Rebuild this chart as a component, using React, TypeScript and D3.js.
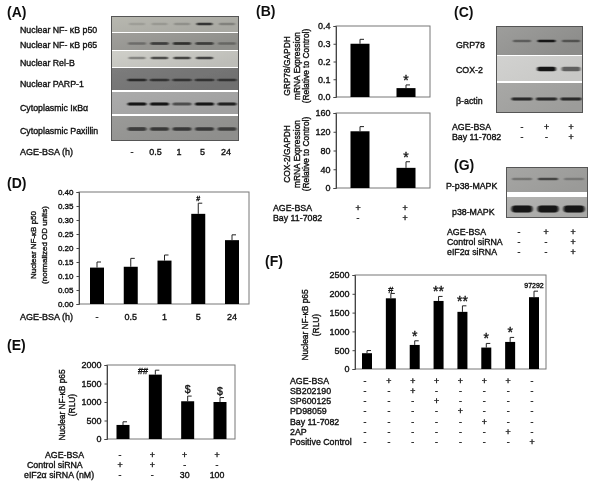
import React, { useEffect, useRef } from "react";
import * as d3 from "d3";

const FONT = "'Liberation Sans', Arial, sans-serif";

// ---- data ----
const aLanes = ["-", "0.5", "1", "5", "24"];
const aLabels = ["Nuclear  NF- κB p50", "Nuclear  NF- κB p65", "Nuclear  Rel-B", "Nuclear  PARP-1", "Cytoplasmic IκBα", "Cytoplasmic Paxillin"];
const aP50 = [0.12, 0.14, 0.18, 0.8, 0.25];
const aP65 = [0.3, 0.7, 0.8, 0.7, 0.3];
const aRelB = [0.35, 0.7, 0.75, 0.75, 0];
const aParp = [0.8, 0.7, 0.7, 0.7, 0.7];
const aIkb = [1, 1, 0.55, 1, 0.9];
const aPax = [0.7, 0.65, 0.65, 0.65, 0.6];

const cGrp = [0.4, 1, 0.45];
const cCox = [0, 1, 0.55];
const cActin = [0.85, 0.85, 0.85];
const gP = [0.3, 0.6, 0.25];
const gT = [1, 1, 1];

const bCats = ["control", "bay"];
const bGrp = [0.3, 0.05];
const bGrpErr = [0.025, 0.018];
const bGrpTicks = [0, 0.1, 0.2, 0.3, 0.4];
const bCox = [121, 43];
const bCoxErr = [10, 13];
const bCoxTicks = [0, 40, 80, 120, 160];

const dCats = ["-", "0.5", "1", "5", "24"];
const dVals = [0.13, 0.133, 0.155, 0.322, 0.228];
const dErrs = [0.02, 0.03, 0.02, 0.038, 0.019];
const dTicks = [0, 0.05, 0.1, 0.15, 0.2, 0.25, 0.3, 0.35, 0.4];
const dMarks = ["", "", "", "#", ""];

const eCats = ["a", "b", "c", "d"];
const eVals = [380, 1740, 1020, 1000];
const eErrs = [85, 120, 140, 120];
const eTicks = [0, 500, 1000, 1500, 2000];
const eMarks = ["", "", "$", "$"];

const fCats = ["a", "b", "c", "d", "e", "f", "g", "h"];
const fVals = [420, 1880, 640, 1810, 1520, 570, 720, 1910];
const fErrs = [70, 130, 110, 120, 160, 110, 120, 160];
const fTicks = [0, 500, 1000, 1500, 2000, 2500];
const fMarks = ["", "#", "*", "**", "**", "*", "*", ""];

const bRows: [string, string[]][] = [
  ["AGE-BSA", ["+", "+"]],
  ["Bay 11-7082", ["-", "+"]],
];
const cRows: [string, string[]][] = [
  ["AGE-BSA", ["-", "+", "+"]],
  ["Bay 11-7082", ["-", "-", "+"]],
];
const gRows: [string, string[]][] = [
  ["AGE-BSA", ["-", "+", "+"]],
  ["Control siRNA", ["-", "-", "+"]],
  ["eIF2α siRNA", ["-", "-", "+"]],
];
const eRows: [string, string[]][] = [
  ["AGE-BSA", ["-", "+", "+", "+"]],
  ["Control siRNA", ["+", "+", "-", "-"]],
  ["eIF2α siRNA  (nM)", ["-", "-", "30", "100"]],
];
const fRows: [string, string[]][] = [
  ["AGE-BSA", ["-", "+", "+", "+", "+", "+", "+", "-"]],
  ["SB202190", ["-", "-", "+", "-", "-", "-", "-", "-"]],
  ["SP600125", ["-", "-", "-", "+", "-", "-", "-", "-"]],
  ["PD98059", ["-", "-", "-", "-", "+", "-", "-", "-"]],
  ["Bay 11-7082", ["-", "-", "-", "-", "-", "+", "-", "-"]],
  ["2AP", ["-", "-", "-", "-", "-", "-", "+", "-"]],
  ["Positive Control", ["-", "-", "-", "-", "-", "-", "-", "+"]],
];

// ---- helpers ----
type Txt = { x: number; y: number; size?: number; anchor?: string; children: React.ReactNode; rotate?: boolean; heavy?: boolean };
function T({ x, y, size = 9, anchor = "start", children, rotate, heavy }: Txt) {
  return (
    <text x={x} y={y} fontSize={size} fontWeight={heavy ? "bold" : "normal"} fontFamily={FONT} textAnchor={anchor} fill="#111"
      stroke={heavy ? "none" : "#111"} strokeWidth={heavy ? 0 : 0.36}
      transform={rotate ? `rotate(-90 ${x} ${y})` : undefined}>
      {children}
    </text>
  );
}

function YAxis({ x, scale, ticks, fmt, size }: { x: number; scale: any; ticks: number[]; fmt: (v: number) => string; size: number }) {
  const ref = useRef<SVGGElement>(null);
  useEffect(() => {
    const g = d3.select(ref.current!);
    g.call(d3.axisLeft(scale).tickValues(ticks).tickFormat((v: any) => fmt(v)).tickSize(2.5).tickPadding(3) as any);
    g.selectAll("text").attr("font-size", size).attr("font-family", FONT).attr("fill", "#111").attr("stroke", "#111").attr("stroke-width", 0.36);
    g.selectAll("line,path").attr("stroke", "#444");
  }, []);
  return <g ref={ref} transform={`translate(${x},0)`} />;
}

type BarP = {
  cats: string[]; vals: number[]; errs: number[]; ticks: number[]; fmt: (v: number) => string;
  x0: number; x1: number; y0: number; y1: number; bw: number; cx0: number; cx1: number; max: number;
  marks?: string[]; markSize?: number; markGap?: number; tickSize?: number;
};
function Bars({ cats, vals, errs, ticks, fmt, x0, x1, y0, y1, bw, cx0, cx1, max, marks, markSize = 10, markGap = 3, tickSize = 9 }: BarP) {
  const x = d3.scalePoint<string>().domain(cats).range([cx0, cx1]);
  const y = d3.scaleLinear().domain([0, max]).range([y1, y0]);
  return (
    <g>
      <rect x={x0} y={y0} width={x1 - x0} height={y1 - y0} fill="#fff" stroke="#777" strokeWidth={1} />
      {cats.map((c, i) => {
        const cx = x(c)!;
        const top = y(vals[i] + errs[i]);
        const m = marks ? marks[i] : "";
        const isHash = m === "#" && markSize > 10;
        return (
          <g key={c}>
            <line x1={cx} x2={cx} y1={y(vals[i])} y2={top} stroke="#222" strokeWidth={1} />
            <line x1={cx} x2={cx + 4} y1={top} y2={top} stroke="#222" strokeWidth={1} />
            <rect x={cx - bw / 2} y={y(vals[i])} width={bw} height={y1 - y(vals[i])} fill="#000" />
            {m ? (
              <T x={cx} y={top - markGap} size={isHash ? markSize * 0.65 : markSize} anchor="middle">{m}</T>
            ) : null}
          </g>
        );
      })}
      <YAxis x={x0} scale={y} ticks={ticks} fmt={fmt} size={tickSize} />
    </g>
  );
}

function Rows({ rows, labelX, y0, dy, cols, size = 9, dx }: { rows: [string, string[]][]; labelX: number; y0: number; dy: number; cols: d3.ScalePoint<string>; size?: number; dx?: number[] }) {
  const keys = cols.domain();
  return (
    <g>
      {rows.map(([label, vals], r) => {
        const yy = y0 + r * dy;
        return (
          <g key={label}>
            <T x={labelX + (dx ? dx[r] : 0)} y={yy} size={size}>{label}</T>
            {vals.map((v, i) => (
              <T key={i} x={cols(keys[i])!} y={yy} size={size} anchor="middle">{v}</T>
            ))}
          </g>
        );
      })}
    </g>
  );
}

type Strip = { y0: number; y1: number; bg: string; bg2: string; vals: number[]; h: number; w: number; by: number };
function Blot({ id, x0, x1, top, bottom, lanes0, lanes1, strips, lanes }: { id: string; x0: number; x1: number; top: number; bottom: number; lanes0: number; lanes1: number; strips: Strip[]; lanes: string[] }) {
  const x = d3.scalePoint<string>().domain(lanes).range([lanes0, lanes1]);
  return (
    <g>
      <defs>
        <filter id={id} x="-30%" y="-100%" width="160%" height="300%"><feGaussianBlur stdDeviation="1 0.7" /></filter>
        {strips.map((s, i) => (
          <linearGradient key={i} id={`${id}g${i}`} x1="0" y1="0" x2="1" y2="0.6">
            <stop offset="0" stopColor={s.bg} />
            <stop offset="1" stopColor={s.bg2} />
          </linearGradient>
        ))}
      </defs>
      <rect x={x0} y={top} width={x1 - x0} height={bottom - top} fill="#fff" />
      {strips.map((s, i) => (
        <g key={i}>
          <rect x={x0} y={s.y0} width={x1 - x0} height={s.y1 - s.y0} fill={`url(#${id}g${i})`} />
          <g filter={`url(#${id})`}>
            {s.vals.map((v, j) => (v > 0 ? (
              <rect key={j} x={x(lanes[j])! - s.w} y={s.by - s.h} width={s.w * 2} height={s.h * 2} rx={s.h} fill="#0a0a0a" opacity={Math.min(1, v * 0.95)} />
            ) : null))}
          </g>
        </g>
      ))}
      <rect x={x0 + 0.5} y={top + 0.5} width={x1 - x0 - 1} height={bottom - top - 1} fill="none" stroke="#555" strokeWidth={1} />
    </g>
  );
}

const f0 = (v: number) => d3.format("d")(v);
const f1 = (v: number) => d3.format(".1f")(v);
const f2 = (v: number) => d3.format(".2f")(v);

export default function App() {
  const aX = d3.scalePoint<string>().domain(aLanes).range([132, 226]);
  const bX = d3.scalePoint<string>().domain(bCats).range([358, 405]);
  const cLanes = ["a", "b", "c"];
  const cX = d3.scalePoint<string>().domain(cLanes).range([522, 571]);
  const gX = d3.scalePoint<string>().domain(cLanes).range([519, 573]);
  const eX = d3.scalePoint<string>().domain(eCats).range([120, 217]);
  const fX = d3.scalePoint<string>().domain(fCats).range([365, 532]);
  const dX = d3.scalePoint<string>().domain(dCats).range([97, 232]);

  const aStrips: Strip[] = [
    { y0: 16, y1: 32, bg: "#b8b8b0", bg2: "#a8a8a2", vals: aP50, by: 24, w: 8, h: 1.2 },
    { y0: 33, y1: 50, bg: "#a09f9b", bg2: "#8e8e8a", vals: aP65, by: 43.5, w: 9, h: 1.2 },
    { y0: 51, y1: 67, bg: "#cfcfc9", bg2: "#bdbdb8", vals: aRelB, by: 58, w: 8.5, h: 1.3 },
    { y0: 68, y1: 90, bg: "#7c7c7c", bg2: "#707070", vals: aParp, by: 80, w: 9.5, h: 1.3 },
    { y0: 92, y1: 114, bg: "#ababab", bg2: "#a0a0a0", vals: aIkb, by: 104, w: 9.5, h: 1.6 },
    { y0: 116, y1: 141, bg: "#9a9a98", bg2: "#8e8e8c", vals: aPax, by: 129, w: 9.5, h: 1.8 },
  ];
  const cStrips: Strip[] = [
    { y0: 26, y1: 55, bg: "#9e9e9c", bg2: "#8c8c8a", vals: cGrp, by: 41, w: 9, h: 1.2 },
    { y0: 56, y1: 81, bg: "#d2d2d0", bg2: "#c8c8c6", vals: cCox, by: 69, w: 9.5, h: 2.2 },
    { y0: 83, y1: 113, bg: "#a8a8a6", bg2: "#9c9c9a", vals: cActin, by: 99, w: 10.5, h: 1.4 },
  ];
  const gStrips: Strip[] = [
    { y0: 167, y1: 192, bg: "#a6a6a4", bg2: "#9a9a98", vals: gP, by: 179, w: 10, h: 1.3 },
    { y0: 197, y1: 218, bg: "#b4b4b2", bg2: "#a8a8a6", vals: gT, by: 209, w: 10.5, h: 3.4 },
  ];

  return (
    <svg width={600} height={482} viewBox="0 0 600 482" style={{ position: "absolute", left: 0, top: 0, background: "#fff" }}>
      <defs><filter id="soft" x="0" y="0" width="100%" height="100%"><feGaussianBlur stdDeviation="0.35" /></filter></defs>
      <g filter="url(#soft)">
      {/* A */}
      <T x={7} y={17} size={14} heavy>(A)</T>
      <Blot id="fa" x0={111} x1={239} top={16} bottom={141} lanes0={137} lanes1={227} strips={aStrips} lanes={aLanes} />
      {aLabels.map((l, i) => (
        <T key={l} x={20} y={[33, 48, 66, 87, 111, 134][i]} size={8.8}>{l}</T>
      ))}
      <T x={20} y={155} size={9}>AGE-BSA  (h)</T>
      {aLanes.map((l) => <T key={l} x={aX(l)!} y={155} anchor="middle">{l}</T>)}

      {/* B */}
      <T x={256} y={16} size={14} heavy>(B)</T>
      <Bars cats={bCats} vals={bGrp} errs={bGrpErr} ticks={bGrpTicks} fmt={f1} x0={336} x1={430} y0={26} y1={97} bw={19} cx0={360} cx1={406} max={0.4} marks={["", "*"]} markSize={14} markGap={0} />
      <Bars cats={bCats} vals={bCox} errs={bCoxErr} ticks={bCoxTicks} fmt={f0} x0={336} x1={430} y0={113} y1={188} bw={19} cx0={360} cx1={406} max={160} marks={["", "*"]} markSize={14} markGap={0} />
      <T x={290} y={66} size={8.4} anchor="middle" rotate>GRP78/GAPDH</T>
      <T x={300} y={66} size={8.4} anchor="middle" rotate>mRNA Expression</T>
      <T x={309} y={66} size={8.4} anchor="middle" rotate>(Relative to Control)</T>
      <T x={290} y={154} size={8.4} anchor="middle" rotate>COX-2/GAPDH</T>
      <T x={300} y={154} size={8.4} anchor="middle" rotate>mRNA Expression</T>
      <T x={309} y={154} size={8.4} anchor="middle" rotate>(Relative to Control)</T>
      <Rows rows={bRows} labelX={273} y0={211} dy={10} cols={bX} size={8.8} />

      {/* C */}
      <T x={454} y={17} size={14} heavy>(C)</T>
      <Blot id="fc" x0={496} x1={583} top={26} bottom={113} lanes0={522} lanes1={571} strips={cStrips} lanes={cLanes} />
      <T x={456} y={48} size={8.8}>GRP78</T>
      <T x={456} y={73} size={8.8}>COX-2</T>
      <T x={456} y={104} size={8.8}>β-actin</T>
      <Rows rows={cRows} labelX={452} y0={130} dy={10} cols={cX} size={8.8} />

      {/* G */}
      <T x={454} y={170} size={14} heavy>(G)</T>
      <Blot id="fg" x0={506} x1={588} top={167} bottom={218} lanes0={522} lanes1={574} strips={gStrips} lanes={cLanes} />
      <T x={446} y={189} size={8.8}>P-p38-MAPK</T>
      <T x={452} y={215} size={8.8}>p38-MAPK</T>
      <Rows rows={gRows} labelX={447} y0={235} dy={10} cols={gX} size={8.8} />

      {/* D */}
      <T x={7} y={188} size={14} heavy>(D)</T>
      <Bars cats={dCats} vals={dVals} errs={dErrs} ticks={dTicks} fmt={f2} x0={79} x1={249} y0={192} y1={304} bw={14} cx0={97} cx1={232} max={0.4} marks={dMarks} markSize={7} markGap={2.5} tickSize={8} />
      <T x={36} y={245} size={8} anchor="middle" rotate>Nuclear NF-κB  p50</T>
      <T x={46.5} y={245} size={8} anchor="middle" rotate>(normalized OD units)</T>
      <T x={20} y={320} size={9}>AGE-BSA  (h)</T>
      {dCats.map((l) => <T key={l} x={dX(l)!} y={320} anchor="middle">{l}</T>)}

      {/* E */}
      <T x={7} y={350} size={14} heavy>(E)</T>
      <Bars cats={eCats} vals={eVals} errs={eErrs} ticks={eTicks} fmt={f0} x0={107} x1={235} y0={365} y1={439} bw={13} cx0={123} cx1={220} max={2000} marks={eMarks} markSize={10.5} markGap={3} tickSize={9} />
      <T x={143} y={374} size={9} anchor="middle">##</T>
      <T x={65} y={405} size={8.4} anchor="middle" rotate>Nuclear NF-κB  p65</T>
      <T x={75} y={405} size={8.4} anchor="middle" rotate>(RLU)</T>
      <Rows rows={eRows} labelX={27} y0={457.5} dy={10.3} cols={eX} size={8.8} dx={[18, 0, -3]} />

      {/* F */}
      <T x={265} y={266} size={14} heavy>(F)</T>
      <Bars cats={fCats} vals={fVals} errs={fErrs} ticks={fTicks} fmt={f0} x0={355} x1={546} y0={275} y1={369} bw={10} cx0={367} cx1={534} max={2500} marks={fMarks} markSize={14} markGap={0} tickSize={9} />
      <T x={308} y={325} size={8.4} anchor="middle" rotate>Nuclear NF-κB  p65</T>
      <T x={319} y={325} size={8.4} anchor="middle" rotate>(RLU)</T>
      <T x={534} y={287.5} size={7} anchor="middle">97292</T>
      <Rows rows={fRows} labelX={290} y0={383.5} dy={10.25} cols={fX} size={8.8} />
      </g>
    </svg>
  );
}
